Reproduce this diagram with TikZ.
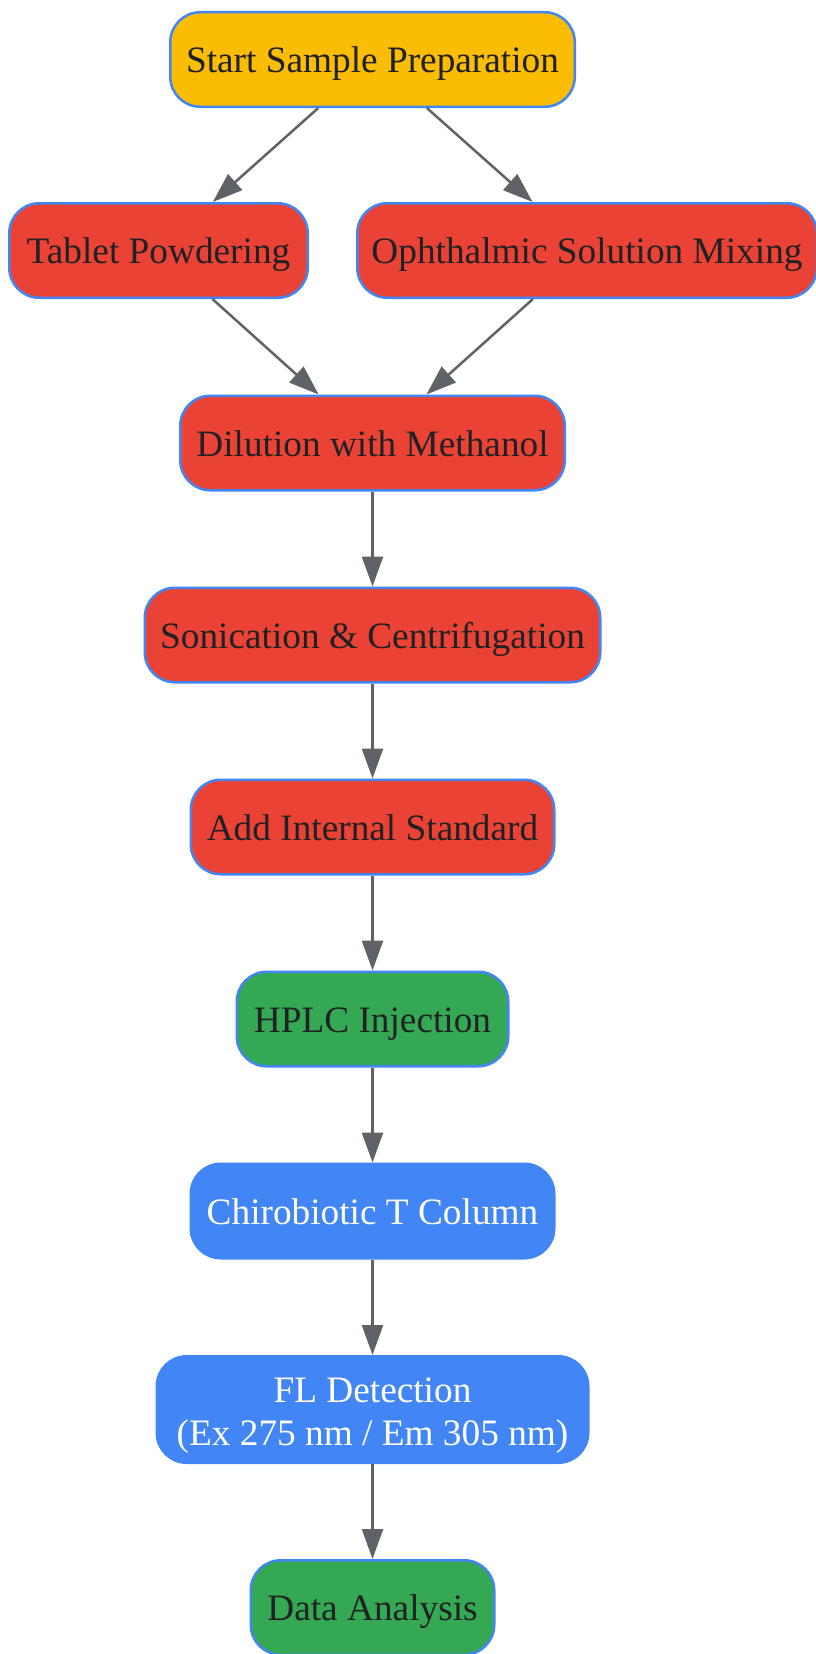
\documentclass[tikz,border=0pt]{standalone}
\usepackage{fontspec}
\setmainfont{Liberation Serif}
\usetikzlibrary{arrows.meta}
\definecolor{gyellow}{HTML}{FBBC04}
\definecolor{gred}{HTML}{EA4335}
\definecolor{ggreen}{HTML}{34A853}
\definecolor{gblue}{HTML}{4285F4}
\definecolor{gborder}{HTML}{4285F4}
\definecolor{gtext}{HTML}{202124}
\definecolor{garrow}{HTML}{5F6368}
\tikzset{
  box/.style={draw=gborder, line width=2.5pt, rounded corners=30pt, inner sep=0pt,
    minimum height=94.5pt, text=gtext, align=center,
    text height=30pt, text depth=4pt,
    font=\fontsize{37.3}{43.5}\selectfont},
  yellowbox/.style={box, fill=gyellow},
  redbox/.style={box, fill=gred},
  greenbox/.style={box, fill=ggreen},
  bluebox/.style={box, fill=gblue, text=white},
  twoline/.style={text height=, text depth=},
  conn/.style={draw=garrow, line width=2.5pt, -{Triangle[length=30pt,width=21pt]}}
}
\begin{document}
\begin{tikzpicture}[x=1pt,y=1pt]
\useasboundingbox (0,0) rectangle (816,-1654);
\node[yellowbox, minimum width=404.5pt] (start) at (372.5,-59.5) {Start Sample Preparation};
\node[redbox, minimum width=298.5pt] (tab) at (158.5,-250.5) {Tablet Powdering};
\node[redbox, minimum width=459.5pt] (oph) at (587,-250.5) {Ophthalmic Solution Mixing};
\node[redbox, minimum width=384.5pt] (dil) at (372.5,-443) {Dilution with Methanol};
\node[redbox, minimum width=455.5pt] (son) at (372.5,-635) {Sonication \& Centrifugation};
\node[redbox, minimum width=363.5pt] (add) at (372.5,-827) {Add Internal Standard};
\node[greenbox, minimum width=271.5pt] (hplc) at (372.5,-1019) {HPLC Injection};
\node[bluebox, minimum width=363.5pt] (chiro) at (372.5,-1211) {Chirobiotic T Column};
\node[bluebox, twoline, minimum width=431.5pt, minimum height=106.5pt] (fl) at (372.5,-1409.5)
  {\raisebox{-6pt}[\height][\depth]{\begin{tabular}{@{}c@{}}FL Detection\\(Ex 275 nm / Em 305 nm)\end{tabular}}};
\node[greenbox, minimum width=243.5pt] (data) at (372.5,-1607.5) {Data Analysis};
\draw[conn] (start) -- (tab);
\draw[conn] (start) -- (oph);
\draw[conn] (tab) -- (dil);
\draw[conn] (oph) -- (dil);
\draw[conn] (dil) -- (son);
\draw[conn] (son) -- (add);
\draw[conn] (add) -- (hplc);
\draw[conn] (hplc) -- (chiro);
\draw[conn] (chiro) -- (fl);
\draw[conn] (fl) -- (data);
\end{tikzpicture}
\end{document}
